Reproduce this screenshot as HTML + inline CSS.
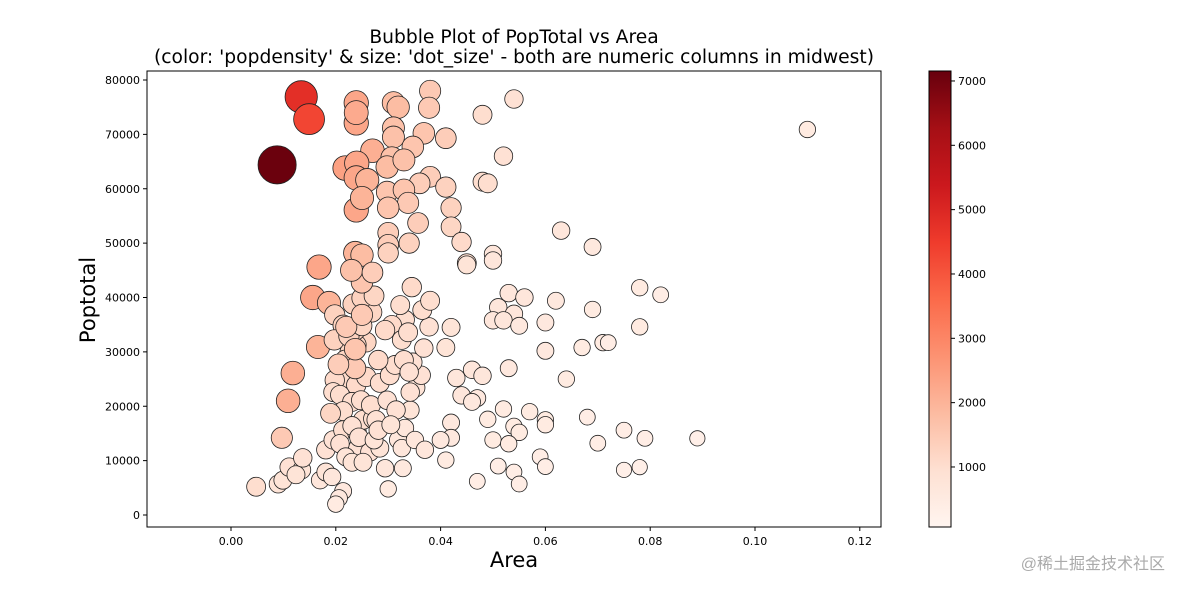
<!DOCTYPE html>
<html><head><meta charset="utf-8"><style>
body{margin:0;background:#fff;}
svg{display:block;font-family:"DejaVu Sans","Liberation Sans",sans-serif;}
</style></head><body>
<svg id="chart" width="1184" height="592" viewBox="0 0 1184 592">
<defs><linearGradient id="cb" x1="0" y1="1" x2="0" y2="0">
<stop offset="0" stop-color="#fff5f0"/><stop offset="0.125" stop-color="#fee0d2"/><stop offset="0.25" stop-color="#fcbba1"/><stop offset="0.375" stop-color="#fc9272"/><stop offset="0.5" stop-color="#fb6a4a"/><stop offset="0.625" stop-color="#ef3b2c"/><stop offset="0.75" stop-color="#cb181d"/><stop offset="0.875" stop-color="#a50f15"/><stop offset="1" stop-color="#67000d"/>
</linearGradient></defs>
<text x="514" y="43" text-anchor="middle" font-size="18.7">Bubble Plot of PopTotal vs Area</text>
<text x="514" y="63" text-anchor="middle" font-size="18.7">(color: 'popdensity' &amp; size: 'dot_size' - both are numeric columns in midwest)</text>
<rect x="147" y="71" width="734" height="456" fill="#fff" stroke="#000" stroke-width="1"/>
<g id="xticks"></g>
<g id="yticks"></g>
<g id="points"></g>
<text x="514" y="567" text-anchor="middle" font-size="21">Area</text>
<text transform="translate(95,300) rotate(-90)" text-anchor="middle" font-size="21">Poptotal</text>
<rect x="929" y="71" width="22" height="456" fill="url(#cb)" stroke="#000" stroke-width="1"/>
<g id="cbticks"></g>
<text x="1165" y="569" text-anchor="end" font-size="16" fill="#aaa" font-family="'Liberation Sans','Noto Sans CJK SC',sans-serif">@稀土掘金技术社区</text>
</svg>
<script>
const xTicks=[0,0.02,0.04,0.06,0.08,0.10,0.12];
const xTickLabels=["0.00","0.02","0.04","0.06","0.08","0.10","0.12"];
const yTicks=[0,10000,20000,30000,40000,50000,60000,70000,80000];
const cbTicks=[1000,2000,3000,4000,5000,6000,7000];
const areas=[0.0134,0.0149,0.0088,0.0239,0.0239,0.0239,0.031,0.0319,0.038,0.0378,
0.048,0.031,0.031,0.0368,0.041,0.027,0.0347,0.0307,0.0218,0.024,
0.0239,0.026,0.0298,0.033,0.038,0.041,0.036,0.0298,0.033,0.0338,
0.0239,0.025,0.030,0.0357,0.042,0.042,0.048,0.044,0.030,0.030,
0.030,0.034,0.045,0.0237,0.025,0.0168,0.049,0.0156,0.0187,0.0166,
0.0118,0.0109,0.0097,0.0048,0.052,0.054,0.110,0.063,0.069,0.050,
0.050,0.045,0.053,0.056,0.051,0.054,0.062,0.050,0.052,0.055,
0.060,0.069,0.078,0.082,0.078,0.071,0.072,0.067,0.060,0.064,
0.053,0.042,0.041,0.046,0.048,0.043,0.044,0.047,0.046,0.052,
0.049,0.057,0.060,0.060,0.054,0.055,0.050,0.053,0.042,0.042,
0.040,0.041,0.075,0.079,0.068,0.070,0.089,0.059,0.060,0.051,
0.054,0.078,0.075,0.047,0.055,
0.009,0.0099,0.0111,0.0135,0.0124,0.017,0.0181,0.0193,0.0214,0.0206,
0.020,0.030,0.0137,0.0181,0.0195,0.0214,0.024,0.0252,0.0271,0.0242,
0.0265,0.0284,0.0294,0.0328,0.0319,0.0332,0.0342,0.0353,0.0363,0.0347,
0.0368,0.0378,0.0365,0.038,0.0345,0.0332,0.0307,0.0294,0.0269,0.0233,
0.025,0.0273,0.0258,0.0239,0.0227,0.0218,0.0219,0.0239,0.0258,0.0284,
0.0303,0.0313,0.033,0.0281,0.0198,0.0195,0.0208,0.0231,0.0214,0.0248,
0.0267,0.0298,0.0315,0.0277,0.0231,0.0244,0.0208,0.0219,0.0231,0.0252,
0.0273,0.0281,0.0198,0.0214,0.0237,0.0197,0.0225,0.025,0.0323,0.0326,
0.0338,0.034,0.0342,0.0305,0.0326,0.0351,0.037,
0.0237,0.0237,0.022,0.025,0.025,0.023,0.027,0.0205,0.019];
const pops=[76900,72800,64400,75800,72100,74000,75800,75000,78000,74900,
73600,71200,69500,70200,69300,67000,67700,65700,63800,64700,
62000,61600,64000,65300,62200,60300,61000,59400,59800,57400,
56100,58300,56500,53700,56500,53000,61300,50200,51900,49700,
48200,50000,46300,48200,47800,45600,61000,40000,39000,30900,
26100,21000,14200,5200,66000,76500,70900,52300,49300,48000,
46800,46000,40800,40000,38200,37000,39400,35800,35800,34800,
35400,37800,41800,40500,34600,31700,31700,30800,30200,25000,
27000,34500,30800,26700,25600,25200,22000,21500,20800,19500,
17600,19000,17500,16600,16300,15200,13800,13100,17000,14200,
13800,10100,15600,14100,18000,13200,14100,10700,8900,9000,
7900,8800,8300,6200,5700,
5700,6400,8800,8300,7400,6400,7900,7000,4400,3100,
2000,4800,10500,12000,13800,15600,15300,17500,17700,12300,
11600,12300,8600,8600,13800,16000,19300,23400,25700,28100,
30700,34600,37700,39400,41900,35900,34900,34000,37300,38800,
39900,40300,31800,31300,30000,28500,25200,23900,25400,24300,
25700,27600,28500,28500,24800,22600,22100,20800,19100,21100,
20200,21100,19300,17500,16400,14300,13100,10700,9700,9700,
13800,15600,36800,34900,34000,32200,32900,34800,38600,32200,
33600,26300,22600,16600,12300,13800,12000,
27000,30500,34600,36800,42800,45000,44600,27700,18700];
const densities=[4800,4300,7100,2300,2300,2200,1800,1800,1500,1500,
1000,1700,1700,1600,1400,2100,1600,1700,2400,2300,
2300,2000,1800,1700,1400,1300,1400,1600,1600,1500,
2300,2000,1600,1400,1300,1200,1000,1100,1400,1400,
1300,1300,1000,2000,1800,2300,1000,2300,2000,2000,
2100,2100,1500,1000,900,900,500,700,600,700,
700,800,700,700,700,700,600,700,700,600,
600,500,500,400,500,500,400,500,600,500,
600,800,800,700,700,700,700,600,600,500,
500,500,500,500,500,500,500,500,600,600,
600,500,400,400,400,400,300,400,400,400,
400,300,300,400,400,
800,800,900,800,800,700,800,700,600,600,
500,500,900,900,900,1000,1000,1000,1000,900,
900,800,700,600,700,700,800,800,900,900,
900,900,1000,1000,1100,1000,1100,1100,1200,1300,
1300,1200,1200,1200,1200,1200,1100,1100,1100,1000,
1000,1000,1000,1100,1100,1000,1000,1000,1000,1000,
1000,900,900,900,900,900,900,800,800,800,
800,900,1300,1300,1300,1300,1300,1200,1000,1000,
1000,900,900,800,700,700,700,
1500,1600,1500,1500,1600,1700,1400,1400,1200];

const NS="http://www.w3.org/2000/svg";
const xS=v=>231+v*5240;
const yS=v=>515-v*435/80000;
const dMin=67,dMax=7155;
const cbY=v=>527-(v-dMin)/(dMax-dMin)*456;
const stops=["#fff5f0","#fee0d2","#fcbba1","#fc9272","#fb6a4a","#ef3b2c","#cb181d","#a50f15","#67000d"].map(h=>[1,3,5].map(i=>parseInt(h.substr(i,2),16)));
function color(d){let t=Math.max(0,Math.min(1,(d-dMin)/(dMax-dMin)))*8;let i=Math.min(7,Math.floor(t)),f=t-i;
const c=stops[i].map((a,k)=>Math.round(a+(stops[i+1][k]-a)*f));return `rgb(${c})`;}
function mk(tag,attrs,parent){const e=document.createElementNS(NS,tag);for(const k in attrs)e.setAttribute(k,attrs[k]);parent.appendChild(e);return e;}
const gx=document.getElementById('xticks');
xTicks.forEach((v,i)=>{
 const l=mk('line',{x1:xS(v),x2:xS(v),y1:527,y2:531,stroke:'#000'},gx);
 
 
 const t=mk('text',{x:xS(v),y:545,'text-anchor':'middle','font-size':11},gx);
 t.textContent=xTickLabels[i];
 
 
});
const gy=document.getElementById('yticks');
yTicks.forEach(v=>{
 const l=mk('line',{x1:143,x2:147,y1:yS(v),y2:yS(v),stroke:'#000'},gy);
 
 
 const t=mk('text',{x:140,y:yS(v)+4,'text-anchor':'end','font-size':11},gy);
 t.textContent=v;
 
 
});
const gc=document.getElementById('cbticks');
cbTicks.forEach(v=>{
 const l=mk('line',{x1:951,x2:955,y1:cbY(v),y2:cbY(v),stroke:'#000'},gc);
 
 
 const t=mk('text',{x:958,y:cbY(v)+4,'font-size':11},gc);
 t.textContent=v;
 
 
});
const gp=document.getElementById('points');
areas.forEach((a,i)=>{
 const d=densities[i];
 const c=mk('circle',{cx:xS(a),cy:yS(pops[i]),r:Math.sqrt(45+d*0.045),fill:color(d),stroke:'#222','stroke-width':0.8},gp);
 
 
});
</script>
</body></html>
